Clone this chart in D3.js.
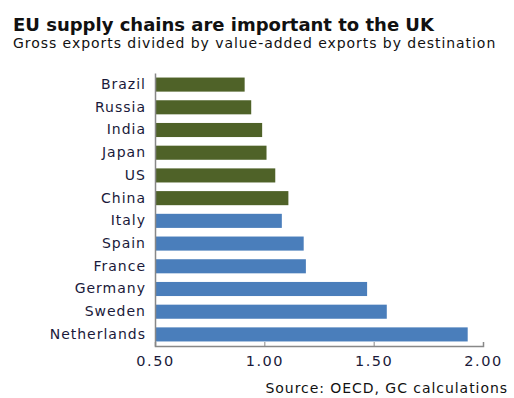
<!DOCTYPE html>
<html><head><meta charset="utf-8">
<script src="https://cdn.jsdelivr.net/npm/d3@7"></script>
<style>body{margin:0;background:#fff}svg{display:block}text{font-family:"DejaVu Sans",sans-serif}</style>
</head><body><svg id="c" width="514" height="398"></svg>
<script>
const categories = ["Brazil","Russia","India","Japan","US","China","Italy","Spain","France","Germany","Sweden","Netherlands"];
const values = [0.91,0.94,0.99,1.01,1.05,1.11,1.08,1.18,1.19,1.47,1.56,1.93];
const groups = ["non-EU","non-EU","non-EU","non-EU","non-EU","non-EU","EU","EU","EU","EU","EU","EU"];
const tickValues = [0.5,1.0,1.5,2.0];
const colors = {"non-EU":"#4f6228","EU":"#4a7ebb"};

const svg = d3.select("#c");
const x = d3.scaleLinear().domain([0.5,2.0]).range([155,483]);
const y = d3.scaleBand().domain(categories).range([73,346]).paddingInner(0.38).paddingOuter(0.2);

svg.append("text").attr("x",13).attr("y",31).attr("font-size",18).attr("font-weight","bold").attr("fill","#111").text("EU supply chains are important to the UK");
svg.append("text").attr("x",13).attr("y",48).attr("font-size",14).attr("letter-spacing",0.95).attr("fill","#111").text("Gross exports divided by value-added exports by destination");

svg.selectAll("rect.bar").data(categories).enter().append("rect")
  .attr("class","bar")
  .attr("x",x(0.5))
  .attr("y",d=>y(d))
  .attr("height",y.bandwidth())
  .attr("width",(d,i)=>x(values[i])-x(0.5))
  .attr("fill",(d,i)=>colors[groups[i]]);

// y axis
const ya = svg.append("g").attr("transform",`translate(${x(0.5)},0)`)
  .call(d3.axisLeft(y).tickSize(0).tickPadding(9));
ya.select(".domain").attr("stroke","#888").attr("stroke-width",1.5);
ya.selectAll("text").attr("font-size",14).attr("letter-spacing",1).attr("fill","#1a1a3a").style("font-family","DejaVu Sans");

// x axis
const xa = svg.append("g").attr("transform","translate(0,346)")
  .call(d3.axisTop(x).tickValues(tickValues).tickFormat(d3.format(".2f")).tickSizeOuter(0).tickSize(4));
xa.select(".domain").attr("stroke","#888").attr("stroke-width",1.5);
xa.selectAll("line").attr("stroke","#888");
xa.selectAll("text").attr("transform","translate(0,27)").attr("font-size",14.5).attr("letter-spacing",1.5).attr("fill","#1a1a3a").style("font-family","DejaVu Sans");

svg.append("text").attr("x",508).attr("y",393).attr("text-anchor","end").attr("font-size",14).attr("letter-spacing",0.95).attr("fill","#111").text("Source: OECD, GC calculations");
</script></body></html>
